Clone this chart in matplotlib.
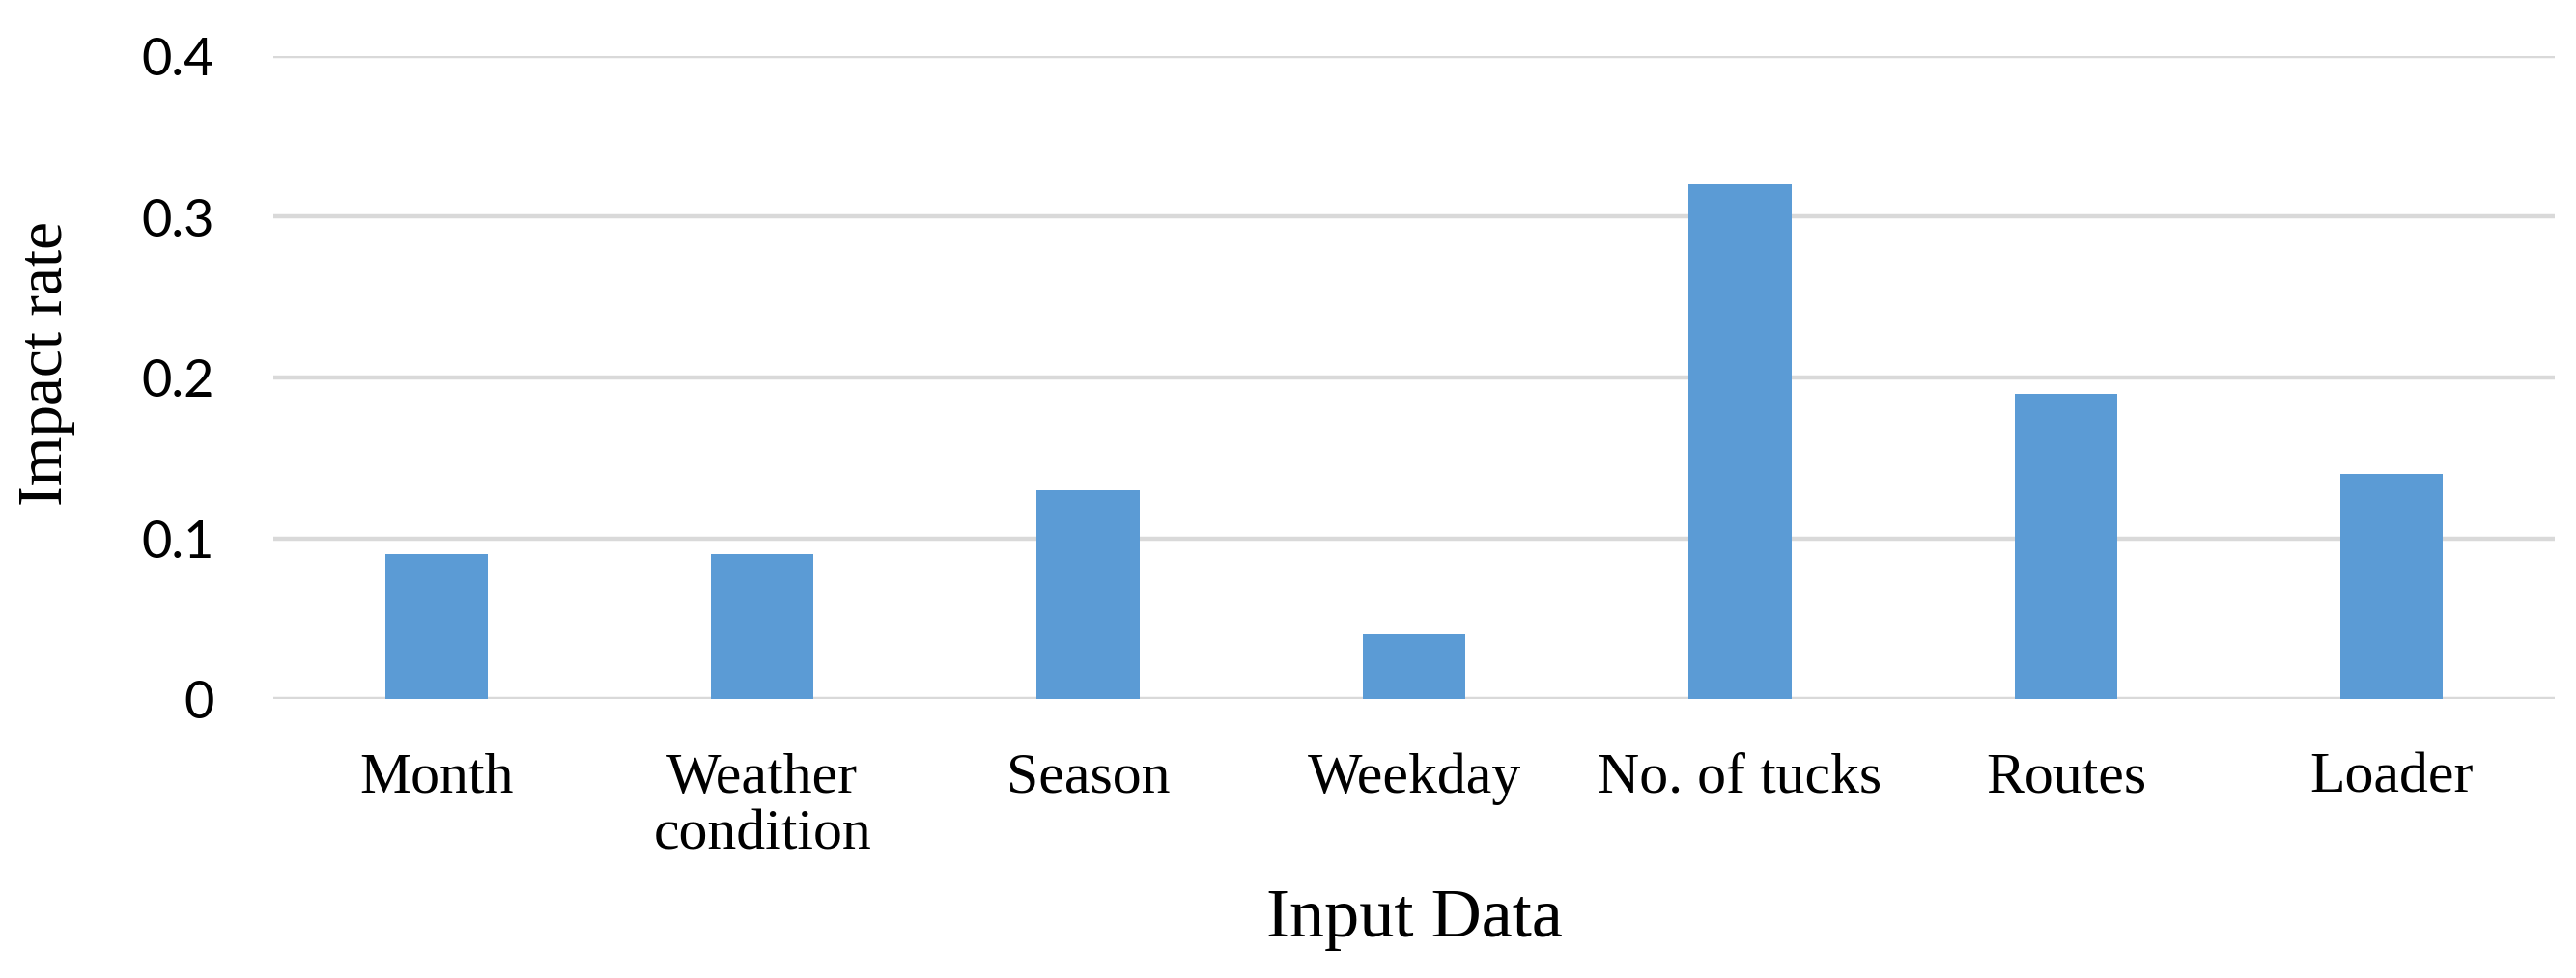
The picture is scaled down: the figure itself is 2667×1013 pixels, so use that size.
import matplotlib
matplotlib.use("Agg")
import matplotlib.pyplot as plt

categories = ["Month", "Weather\ncondition", "Season", "Weekday", "No. of tucks", "Routes", "Loader"]
impact = [0.09, 0.09, 0.13, 0.04, 0.32, 0.19, 0.14]
yticks = [0, 0.1, 0.2, 0.3, 0.4]
ytick_labels = ["0", "0.1", "0.2", "0.3", "0.4"]

fig = plt.figure(figsize=(26.67, 10.13), dpi=100)
ax = fig.add_axes([283/2667, 1 - 724/1013, (2645-283)/2667, (724-58)/1013])

x = list(range(len(categories)))
ax.bar(x, impact, width=0.315, color="#5B9BD5", zorder=3)

ax.set_xlim(-0.5, len(categories) - 0.5)
ax.set_ylim(0, 0.4)
ax.set_yticks(yticks)
ax.set_yticklabels(ytick_labels, fontfamily="Lato", fontsize=39)
ax.set_xticks(x)
ax.set_xticklabels(categories, fontfamily="Liberation Serif", fontsize=43, linespacing=1.12)
ax.tick_params(axis="both", length=0)
ax.tick_params(axis="y", pad=44)
ax.tick_params(axis="x", pad=40)

ax.grid(axis="y", color="#D9D9D9", linewidth=3.2, zorder=0)
ax.grid(axis="x", visible=False)
for s in ax.spines.values():
    s.set_visible(False)

ax.set_xlabel("Input Data", fontfamily="Liberation Serif", fontsize=52, labelpad=20)
ax.set_ylabel("Impact rate", fontfamily="Liberation Serif", fontsize=47)
ax.yaxis.set_label_coords(-0.087, 0.522)

fig.savefig("out.png", dpi=100, facecolor="white")
